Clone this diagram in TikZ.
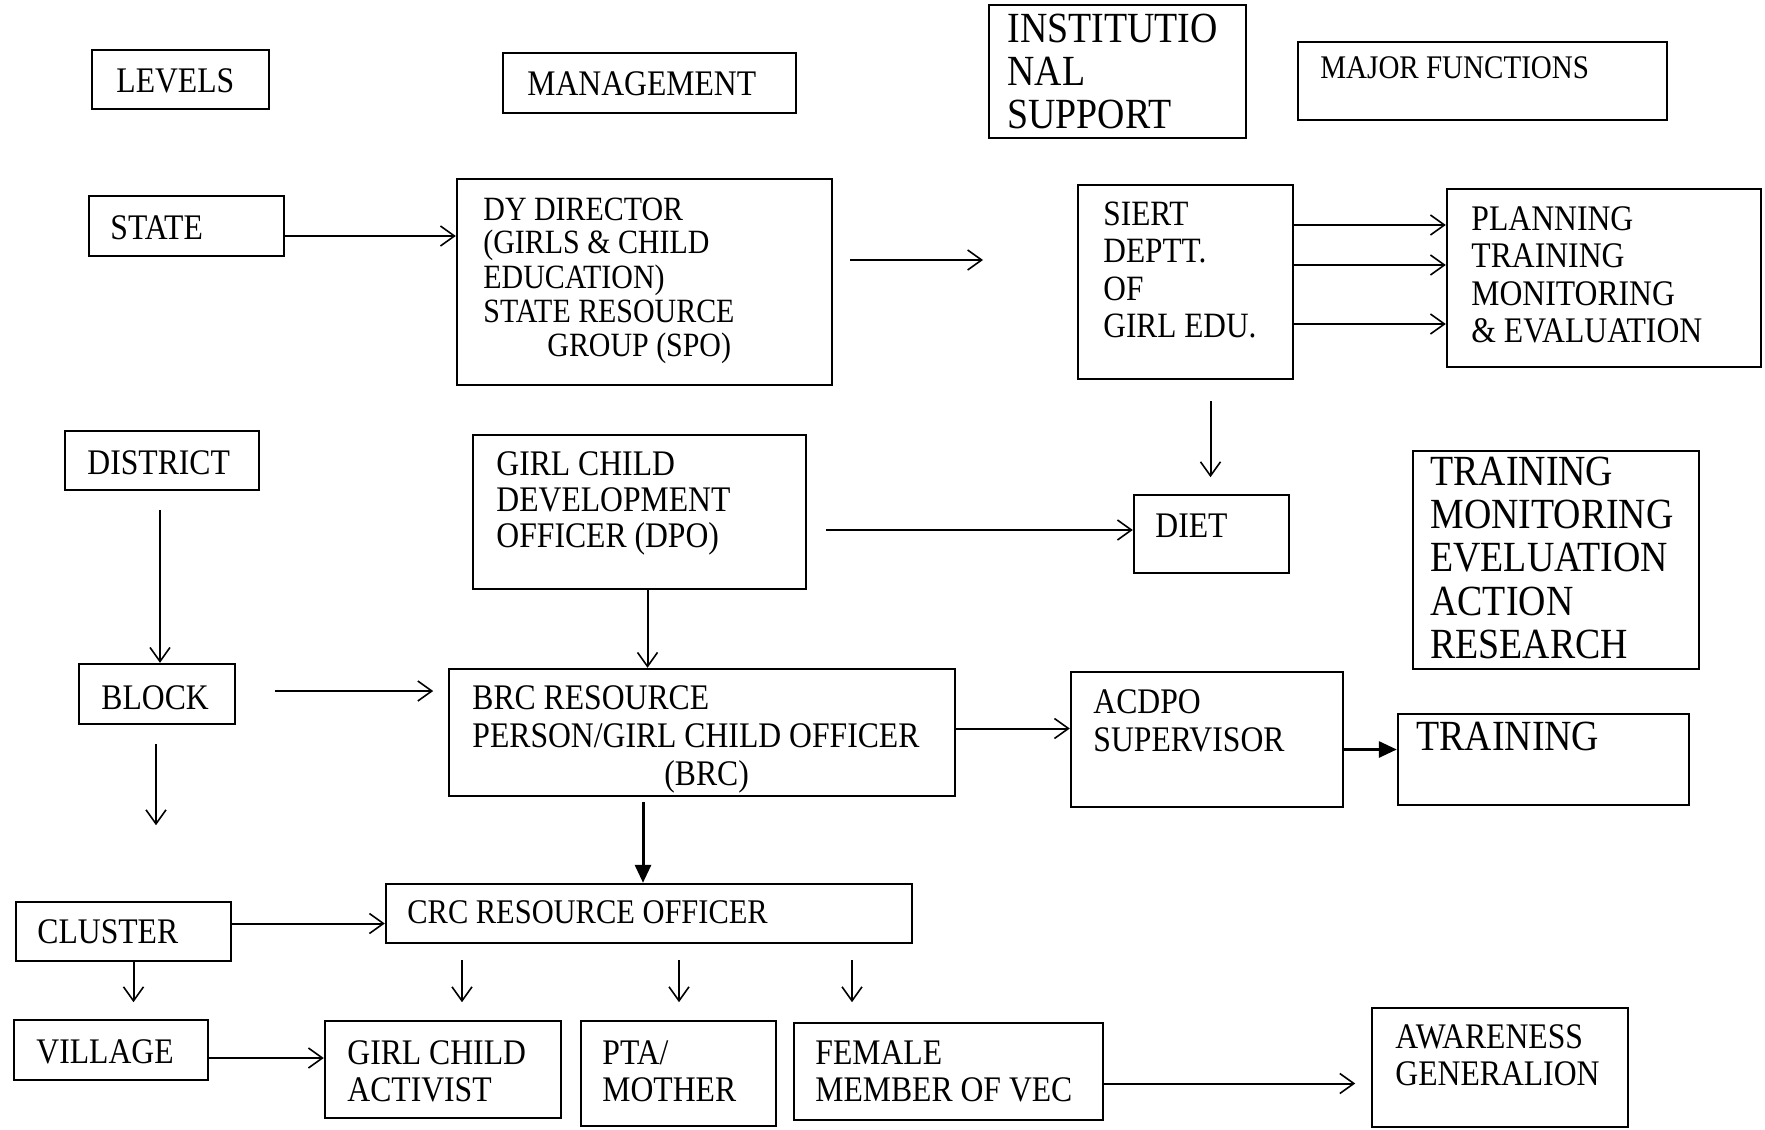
\documentclass[tikz,border=0pt]{standalone}
\usepackage{fontspec}
\setmainfont{Liberation Serif}[FakeStretch=0.88]
\usetikzlibrary{arrows.meta,fit}
% multi-line block whose baseline is that of its first line
\newcommand\ml[2]{\vtop{\baselineskip=#1\lineskiplimit=-50pt\lineskip=0pt\halign{##\hfil\cr#2\crcr}}}
\tikzset{
  box/.style={draw, line width=1.2pt, inner sep=0pt},
  txt/.style={inner sep=0pt, anchor=base west, font=\fontsize{18pt}{18pt}\selectfont},
  arr/.style={line width=1pt, -{Straight Barb[length=7pt,width=10pt,line width=0.8pt]}},
  fat/.style={line width=1.5pt, -{Triangle[length=9pt,width=8pt]}},
}
\begin{document}
\begin{tikzpicture}[x=0.5pt,y=-0.5pt]
\fill[white] (0,0) rectangle (1765,1129);
\useasboundingbox (0,0) rectangle (1765,1129);

% ---- boxes ----
\node[box, fit={(92,50) (269,109)}]     (levels)   {};
\node[box, fit={(503,53) (796,113)}]    (mgmt)     {};
\node[box, fit={(989,5) (1246,138)}]    (inst)     {};
\node[box, fit={(1298,42) (1667,120)}]  (majf)     {};
\node[box, fit={(89,196) (284,256)}]    (state)    {};
\node[box, fit={(457,179) (832,385)}]   (dy)       {};
\node[box, fit={(1078,185) (1293,379)}] (siert)    {};
\node[box, fit={(1447,189) (1761,367)}] (plan)     {};
\node[box, fit={(65,431) (259,490)}]    (district) {};
\node[box, fit={(473,435) (806,589)}]   (dev)      {};
\node[box, fit={(1134,495) (1289,573)}] (diet)     {};
\node[box, fit={(1413,451) (1699,669)}] (tmer)     {};
\node[box, fit={(79,664) (235,724)}]    (block)    {};
\node[box, fit={(449,669) (955,796)}]   (brc)      {};
\node[box, fit={(1071,672) (1343,807)}] (acdpo)    {};
\node[box, fit={(1398,714) (1689,805)}] (tr2)      {};
\node[box, fit={(16,902) (231,961)}]    (cluster)  {};
\node[box, fit={(386,884) (912,943)}]   (crc)      {};
\node[box, fit={(14,1020) (208,1080)}]  (village)  {};
\node[box, fit={(325,1021) (561,1118)}] (gca)      {};
\node[box, fit={(581,1021) (776,1126)}] (pta)      {};
\node[box, fit={(794,1023) (1103,1120)}] (fem)     {};
\node[box, fit={(1372,1008) (1628,1127)}] (aware)  {};

% ---- texts ----
\node[txt] (levels-t) at (116,92) {LEVELS};
\node[txt] (mgmt-t) at (527,96) {MANAGEMENT};
\node[txt, font=\fontsize{21.5pt}{21.5pt}\selectfont] (inst-t) at (1007,43)
  {\ml{21.5pt}{INSTITUTIO\cr NAL\cr SUPPORT}};
\node[txt, font=\fontsize{16.5pt}{16.5pt}\selectfont] (majf-t) at (1320,79) {MAJOR FUNCTIONS};
\node[txt] (state-t) at (110,239) {STATE};
\node[txt, font=\fontsize{17pt}{17pt}\selectfont] (dy-t) at (483,220)
  {\ml{17pt}{DY DIRECTOR\cr (GIRLS \& CHILD\cr EDUCATION)\cr STATE RESOURCE\cr \hskip32pt GROUP (SPO)}};
\node[txt, font=\fontsize{17.8pt}{17.8pt}\selectfont] (siert-t) at (1103,225)
  {\ml{18.75pt}{SIERT\cr DEPTT.\cr OF\cr GIRL EDU.}};
\node[txt] (plan-t) at (1471,230)
  {\ml{18.75pt}{PLANNING\cr TRAINING\cr MONITORING\cr \& EVALUATION}};
\node[txt] (district-t) at (87,474) {DISTRICT};
\node[txt] (dev-t) at (496,475)
  {\ml{18pt}{GIRL CHILD\cr DEVELOPMENT\cr OFFICER (DPO)}};
\node[txt] (diet-t) at (1155,537) {DIET};
\node[txt, font=\fontsize{21.5pt}{21.5pt}\selectfont] (tmer-t) at (1430,485)
  {\ml{21.7pt}{TRAINING\cr MONITORING\cr EVELUATION\cr ACTION\cr RESEARCH}};
\node[txt] (block-t) at (101,709) {BLOCK};
\node[txt] (brc-t) at (472,709)
  {\ml{19pt}{BRC RESOURCE\cr PERSON/GIRL CHILD OFFICER\cr \hskip96pt(BRC)}};
\node[txt] (acdpo-t) at (1093,713) {\ml{19pt}{ACDPO\cr SUPERVISOR}};
\node[txt, font=\fontsize{21.5pt}{21.5pt}\selectfont] (tr2-t) at (1416,750) {TRAINING};
\node[txt] (cluster-t) at (37,943) {CLUSTER};
\node[txt, font=\fontsize{17.3pt}{17.3pt}\selectfont] (crc-t) at (407,923) {CRC RESOURCE OFFICER};
\node[txt] (village-t) at (36,1063) {VILLAGE};
\node[txt] (gca-t) at (347,1064) {\ml{18.5pt}{GIRL CHILD\cr ACTIVIST}};
\node[txt] (pta-t) at (602,1064) {\ml{18.5pt}{PTA/\cr MOTHER}};
\node[txt] (fem-t) at (815,1064) {\ml{18.5pt}{FEMALE\cr MEMBER OF VEC}};
\node[txt] (aware-t) at (1395,1048) {\ml{18.5pt}{AWARENESS\cr GENERALION}};

% ---- connectors ----
\draw[arr] (state.east) ++(0,10) coordinate (s1) -- (s1 -| dy.west);
\coordinate (f1a) at (850,260);
\coordinate (f1b) at (983,260);
\draw[arr] (f1a) -- (f1b);
\draw[arr] (siert.east) ++(0,-57) coordinate (p1) -- (p1 -| plan.west);
\draw[arr] (siert.east) ++(0,-17) coordinate (p2) -- (p2 -| plan.west);
\draw[arr] (siert.east) ++(0,42)  coordinate (p3) -- (p3 -| plan.west);
\draw[arr] (siert.south) ++(25,21) coordinate (d0) -- ++(0,76);
\draw[arr] (dev.east) ++(19,18) coordinate (g0) -- (g0 -| diet.west);
\draw[arr] (dev.south) ++(8,0) coordinate (g1) -- (g1 |- brc.north);
\draw[arr] (district.south) ++(-2,19) coordinate (d1) -- (d1 |- block.north);
\draw[arr] (block.east) ++(39,-3) coordinate (b1) -- ++(158,0);
\draw[arr] (block.south) ++(-1,19) coordinate (b0) -- ++(0,81);
\draw[arr] (brc.east) ++(0,-4) coordinate (b2) -- (b2 -| acdpo.west);
\draw[fat] (acdpo.east) ++(0,10) coordinate (a1) -- (a1 -| tr2.west);
\draw[fat] (brc.south) ++(-59,5) coordinate (b3) -- (b3 |- crc.north);
\draw[arr] (cluster.east) ++(0,-8) coordinate (c1) -- (c1 -| crc.west);
\draw[arr] (cluster.south) ++(10,0) coordinate (c2) -- ++(0,40);
\draw[arr] (crc.south) ++(-187,16) coordinate (r1) -- ++(0,42);
\draw[arr] (crc.south) ++(30,16)   coordinate (r2) -- ++(0,42);
\draw[arr] (crc.south) ++(203,16)  coordinate (r3) -- ++(0,42);
\draw[arr] (village.east) ++(0,8) coordinate (v1) -- (v1 -| gca.west);
\draw[arr] (fem.east) ++(0,12) coordinate (e1) -- ++(251,0);
\end{tikzpicture}
\end{document}
